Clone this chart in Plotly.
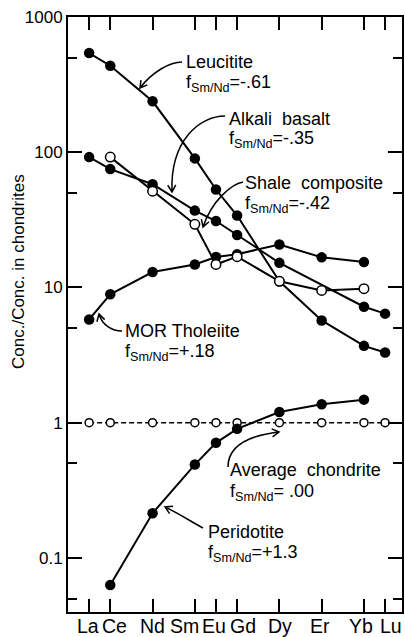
import math
import plotly.graph_objects as go

# Rare earth elements (x axis placed by atomic number)
REE = ["La", "Ce", "Nd", "Sm", "Eu", "Gd", "Dy", "Er", "Yb", "Lu"]
Z = [57, 58, 60, 62, 63, 64, 66, 68, 70, 71]

# Chondrite-normalised abundances
leucitite = [541, 436, 238, 90, 53, 34, 11.1, 5.7, 3.7, 3.3]
alkali_basalt = [92, 75, 58, 37, 31, 24.4, 15.2, None, 7.2, 6.4]
shale_composite = [None, 92, 51.5, 29.3, 14.8, 16.9, 11.1, 9.5, 9.8, None]
mor_tholeiite = [5.8, 8.9, 13, 14.8, 16.8, 17.6, 20.8, 16.7, 15.4, None]
average_chondrite = [1, 1, 1, 1, 1, 1, 1, 1, 1, 1]
peridotite = [None, 0.063, 0.214, 0.49, 0.71, 0.90, 1.2, 1.37, 1.48, None]

y_major = [0.1, 1, 10, 100, 1000]
y_major_text = ["0.1", "1", "10", "100", "1000"]
y_minor = [0.05, 0.5, 5, 50, 500]

FONT = "Liberation Sans, Arial, Helvetica, sans-serif"
W, H = 405, 637
ML, MR, MT, MB = 68, 3, 17, 25
PW = W - ML - MR
PH = H - MT - MB


def paper(x, y):
    """Pixel position in the page -> paper coordinates."""
    return (x - ML) / PW, 1 - (y - MT) / PH


def series(values, filled=True, size=10.5, dash="solid", width=2):
    return go.Scatter(
        x=Z, y=values, mode="lines+markers", connectgaps=True,
        line=dict(color="black", width=width, dash=dash),
        marker=dict(size=size, color="black" if filled else "white",
                    line=dict(color="black", width=0 if filled else 1.5)),
        showlegend=False, hoverinfo="skip",
    )


fig = go.Figure()
fig.add_trace(series(mor_tholeiite))
fig.add_trace(series(alkali_basalt))
fig.add_trace(series(leucitite))
fig.add_trace(series(shale_composite, filled=False, size=9.5))
fig.add_trace(series(average_chondrite, filled=False, size=8,
                     dash="5px,3px", width=1.5))
fig.add_trace(series(peridotite))

annotations = []
shapes = []

LABEL_SIZE = 18


def text_line(x, baseline, text):
    px, py = paper(x - 1, baseline - 0.905 * LABEL_SIZE)
    annotations.append(dict(
        xref="paper", yref="paper", x=px, y=py, xanchor="left", yanchor="top",
        text=text, showarrow=False, borderpad=0,
        font=dict(family=FONT, size=LABEL_SIZE, color="black"),
    ))


def curved_arrow(p0, c1, c2, p1, head=8, spread=30):
    pts = [paper(*p) for p in (p0, c1, c2, p1)]
    d = "M {0[0]:.5f},{0[1]:.5f} C {1[0]:.5f},{1[1]:.5f} {2[0]:.5f},{2[1]:.5f} {3[0]:.5f},{3[1]:.5f}".format(*pts)
    ang = math.atan2(p1[1] - c2[1], p1[0] - c2[0])
    arms = []
    for s in (spread, -spread):
        a = ang + math.pi + math.radians(s)
        arms.append(paper(p1[0] + head * math.cos(a), p1[1] + head * math.sin(a)))
    tip = pts[3]
    d += " M {0[0]:.5f},{0[1]:.5f} L {1[0]:.5f},{1[1]:.5f} L {2[0]:.5f},{2[1]:.5f}".format(arms[0], tip, arms[1])
    shapes.append(dict(type="path", xref="paper", yref="paper", path=d,
                       line=dict(color="black", width=1.5)))


SUB = "f<sub>Sm/Nd</sub>"

text_line(186, 67, "Leucitite")
text_line(186, 87, SUB + "=-.61")
curved_arrow((182, 62), (170, 62), (152, 72), (140, 88))

text_line(229, 124, "Alkali  basalt")
text_line(229, 143, SUB + "=-.35")
curved_arrow((225, 116), (200, 116), (170, 140), (172, 192))

text_line(245, 188, "Shale  composite")
text_line(245, 208, SUB + "=-.42")
curved_arrow((243, 182), (232, 184), (212, 200), (203, 227))

text_line(125, 336, "MOR Tholeiite")
text_line(125, 356, SUB + "=+.18")
curved_arrow((122, 331), (112, 331), (102, 325), (99, 314))

text_line(230, 475, "Average  chondrite")
text_line(230, 496, SUB + "= .00")
curved_arrow((228, 467), (228, 448), (245, 436), (279, 432))

text_line(208, 537, "Peridotite")
text_line(208, 557, SUB + "=+1.3")
curved_arrow((203, 528), (195, 524), (180, 514), (165, 507))

# element labels under the x axis, nudged sideways so neighbours stay apart
label_nudge = {"La": -1.5, "Ce": 4.5, "Nd": 0, "Sm": -10, "Eu": -2,
               "Gd": 6, "Dy": 1, "Er": -2, "Yb": -3, "Lu": 6}
TICK_SIZE = 19.5
_, label_top = paper(0, 632 - 0.905 * TICK_SIZE)
for name, z in zip(REE, Z):
    annotations.append(dict(
        xref="x", yref="paper", x=z, y=label_top, xanchor="center",
        yanchor="top", xshift=label_nudge[name], text=name, showarrow=False,
        borderpad=0, font=dict(family=FONT, size=TICK_SIZE, color="black"),
    ))

# y axis title
tx, ty = paper(18, 272)
annotations.append(dict(
    xref="paper", yref="paper", x=tx, y=ty, xanchor="center", yanchor="middle",
    text="Conc./Conc. in chondrites", textangle=-90, showarrow=False,
    font=dict(family=FONT, size=17, color="black"),
))

fig.update_layout(
    width=W, height=H,
    margin=dict(l=ML, r=MR, t=MT, b=MB, pad=0),
    paper_bgcolor="white", plot_bgcolor="white",
    annotations=annotations, shapes=shapes,
    xaxis=dict(
        range=[56.0, 71.8], tickmode="array", tickvals=Z,
        showticklabels=False, automargin=False,
        ticks="inside", ticklen=13, tickwidth=1.5, tickcolor="black",
        showline=True, linewidth=2, linecolor="black", mirror="ticks",
        showgrid=False, zeroline=False,
    ),
    yaxis=dict(
        type="log", range=[-1.4, 3.0], tickmode="array",
        tickvals=y_major, ticktext=y_major_text, automargin=False,
        ticks="inside", ticklen=14, tickwidth=1.5, tickcolor="black",
        minor=dict(tickmode="array", tickvals=y_minor, ticks="inside",
                   ticklen=9, tickwidth=1.5, tickcolor="black", showgrid=False),
        showline=True, linewidth=2, linecolor="black", mirror="ticks",
        showgrid=False, zeroline=False,
        tickfont=dict(family=FONT, size=17, color="black"),
    ),
)

fig.write_html("out.html")
